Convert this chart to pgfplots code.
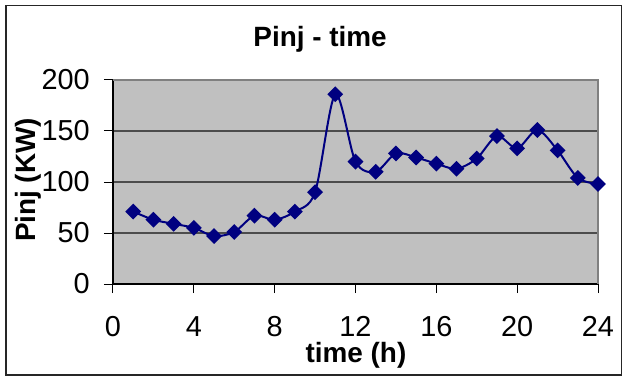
\documentclass[border=0pt]{standalone}
\usepackage{pgfplots}
\pgfplotsset{compat=1.18}
\usepackage{fontspec}
\setmainfont{Liberation Sans}
\definecolor{plotgray}{RGB}{192,192,192}
\definecolor{navyline}{RGB}{0,0,128}
\definecolor{bordergray}{RGB}{128,128,128}
\pgfplotstableread{
x y
1 71
2 63
3 59
4 55
5 47
6 51
7 67
8 63
9 71
10 90
11 186
12 120
13 110
14 128
15 124
16 118
17 113
18 123
19 145
20 133
21 151
22 131
23 104
24 98
}\pinj
\begin{document}
\begin{tikzpicture}
\begin{axis}[
  name=ax,
  scale only axis, width=485bp, height=204bp,
  xmin=0, xmax=24, ymin=0, ymax=200,
  xtick={0,4,...,24}, ytick={0,50,...,200},
  axis background/.style={fill=plotgray},
  axis lines=left, axis line style={-, line width=1.2bp, black},
  tick align=outside, major tick length=9bp,
  tick style={line width=1bp, black},
  ymajorgrids, major grid style={line width=1.2bp, black!70},
  /pgf/number format/assume math mode=true,
  ticklabel style={font=\fontsize{29}{34}\selectfont},
  xticklabel style={anchor=north, inner sep=0pt, yshift=-23bp},
  yticklabel style={anchor=east, inner sep=0pt, xshift=-14bp},
  title={\textbf{Pinj - time}},
  title style={font=\fontsize{28}{32}\selectfont, at={(axis description cs:0.427,1.137)}, anchor=base, inner sep=0pt},
  xlabel={\textbf{time (h)}},
  xlabel style={font=\fontsize{28}{32}\selectfont, at={(axis description cs:0.501,-0.386)}, anchor=base, inner sep=0pt},
  ylabel={\textbf{Pinj (KW)}},
  ylabel style={font=\fontsize{28}{32}\selectfont, at={(axis description cs:-0.174,0.51)}, anchor=center, inner sep=0pt},
  clip=false,
]
\draw[bordergray, line width=1.5bp] (rel axis cs:0,1) -- (rel axis cs:1,1) -- (rel axis cs:1,0);
\addplot[navyline, line width=2bp, smooth, tension=0.5, mark=square*, mark size=4.6bp, mark options={rotate=45, solid, fill=navyline}] table[x=x,y=y] {\pinj};
\end{axis}
\draw[line width=1.2bp, black!85] ([shift={(-107bp,-91bp)}]ax.south west) rectangle ([shift={(23.5bp,74.5bp)}]ax.north east);
\path ([shift={(-113bp,-92bp)}]ax.south west) rectangle ([shift={(25bp,80bp)}]ax.north east);
\end{tikzpicture}
\end{document}
